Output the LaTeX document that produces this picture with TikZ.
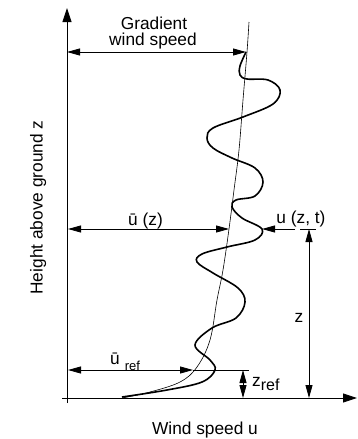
\documentclass[tikz,border=0pt]{standalone}
\usepackage{fontspec}
\setmainfont{Liberation Sans}
\usetikzlibrary{arrows.meta}
\begin{document}
\begin{tikzpicture}[x=1pt, y=-1pt, every node/.style={inner sep=0pt, font=\fontsize{17.3}{17}\selectfont},
  dimline/.style={{Triangle[length=13pt,width=7pt]}-{Triangle[length=13pt,width=7pt]}, line width=0.8pt},
  onearrow/.style={-{Triangle[length=13pt,width=7pt]}, line width=0.8pt},
  axis/.style={-{Triangle[length=14pt,width=9pt]}, line width=0.9pt}]
  \useasboundingbox (0,0) rectangle (358,439);
  % axes
  \coordinate (Zb) at (67,403); \coordinate (Zt) at (67,8);
  \coordinate (Ul) at (62,398); \coordinate (Ur) at (357,398);
  \draw[axis] (Zb) -- (Zt);
  \draw[axis] (Ul) -- (Ur);
  \node[rotate=90, anchor=base] at (42.7,207.5) {Height above ground z};
  \node[anchor=base] at (205,434) {Wind speed u};
  % mean profile
  \draw[line width=0.6pt] plot[smooth, tension=0.6] coordinates {(249,22) (247,52) (243,100) (239,150)
    (234,190) (229,229) (223,270) (217,300) (210,340) (197,367) (180,382) (150,392) (122,398)};
  % gusty profile
  \draw[line width=1.6pt] plot[smooth, tension=0.6] coordinates {(246,52) (240,66) (240,75) (247,79)
    (268,80) (280,90) (273,104) (243,117) (213,128) (207,138) (213,148) (232,158) (255,168) (263,182)
    (255,196) (236,200) (232,207) (242,218) (262,229) (255,240) (227,247) (202,254) (197,262) (213,273)
    (238,288) (245,302) (236,318) (212,328) (195,345) (210,360) (215,370) (202,382) (167,390) (122,397)};
  % gradient wind speed
  \coordinate (G1) at (67,52); \coordinate (G2) at (246,52);
  \draw[dimline] (G1) -- (G2);
  \node[anchor=base] at (154,29) {Gradient};
  \node[anchor=base] at (153,45.5) {wind speed};
  % mean at height z
  \coordinate (M1) at (68,229); \coordinate (M2) at (229,229);
  \draw[dimline] (M1) -- (M2);
  \node[anchor=base] at (145.5,225) {ū (z)};
  % instantaneous
  \coordinate (I1) at (295,229); \coordinate (I2) at (262,229);
  \draw[onearrow] (I1) -- (I2);
  \node[anchor=base] at (301,223) {u (z, t)};
  \coordinate (T1) at (300,229); \coordinate (T2) at (316,229);
  \draw[line width=0.8pt] (T1) -- (T2);
  \coordinate (H1) at (309,229); \coordinate (H2) at (309,398);
  \draw[dimline] (H1) -- (H2);
  \node[anchor=base] at (299,322) {z};
  % reference
  \coordinate (R1) at (68,370); \coordinate (R2) at (193,370); \coordinate (R3) at (249,370);
  \draw[dimline] (R1) -- (R2);
  \draw[line width=0.8pt] (R2) -- (R3);
  \node[anchor=base west] at (110,364) {ū\hspace{5pt}\raisebox{-6pt}{\fontsize{13}{13}\selectfont ref}};
  \coordinate (S1) at (243,370); \coordinate (S2) at (243,398);
  \draw[dimline] (S1) -- (S2);
  \node[anchor=base west] at (252,386) {z\raisebox{-4pt}{\fontsize{16}{16}\selectfont ref}};
\end{tikzpicture}
\end{document}
